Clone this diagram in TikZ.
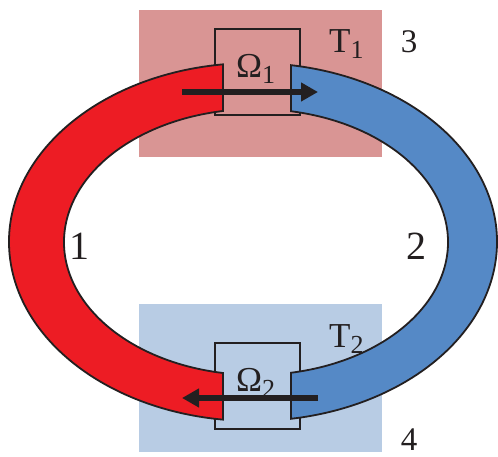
\documentclass[tikz,border=0pt]{standalone}
\usepackage{fontspec}
\setmainfont{Liberation Serif}
\usetikzlibrary{arrows.meta}
\definecolor{bandred}{HTML}{ED1C24}
\definecolor{bandblue}{HTML}{5589C6}
\definecolor{hotbg}{HTML}{D99594}
\definecolor{coldbg}{HTML}{B8CCE4}
\definecolor{ink}{HTML}{231F20}
\newcommand{\subtxt}[1]{\raisebox{-6pt}{\fontsize{26}{26}\selectfont #1}}
\begin{document}
\begin{tikzpicture}[x=1pt,y=1pt,
  band/.style={draw=ink, line width=1.8pt, line join=miter},
  valve/.style={draw=ink, line width=1.3pt},
  flow/.style={draw=ink, line width=6pt, -{Triangle[length=17pt,width=18pt]}},
  bigdigit/.style={font=\fontsize{40}{40}\selectfont, text=ink, inner sep=0pt, anchor=base},
  meddigit/.style={font=\fontsize{33}{33}\selectfont, text=ink, inner sep=0pt, anchor=base},
  lbl/.style={font=\fontsize{35}{35}\selectfont, text=ink, inner sep=0pt, anchor=base west}]
\useasboundingbox (0,0) rectangle (498,457);
% reservoirs
\fill[hotbg] (139,300) rectangle (382,447);
\fill[coldbg] (139,5) rectangle (382,153);
% valve boxes
\draw[valve] (215,342) rectangle (300,428);
\draw[valve] (215,28) rectangle (300,114);
% ellipse parameters
\pgfmathsetmacro{\cx}{253}\pgfmathsetmacro{\cy}{215}
\pgfmathsetmacro{\oa}{244}\pgfmathsetmacro{\ob}{179}
\pgfmathsetmacro{\icx}{256}
\pgfmathsetmacro{\ia}{192}\pgfmathsetmacro{\ib}{133}
\pgfmathsetmacro{\roA}{acos((223-\cx)/\oa)}
\pgfmathsetmacro{\riA}{acos((223-\icx)/\ia)}
\pgfmathsetmacro{\boA}{acos((291-\cx)/\oa)}
\pgfmathsetmacro{\biA}{acos((291-\icx)/\ia)}
% red band
\filldraw[band, fill=bandred]
  ({\cx+\oa*cos(\roA)},{\cy+\ob*sin(\roA)})
  arc[start angle=\roA, end angle={360-\roA}, x radius=\oa, y radius=\ob]
  -- ({\icx+\ia*cos(360-\riA)},{\cy+\ib*sin(360-\riA)})
  arc[start angle={360-\riA}, end angle=\riA, x radius=\ia, y radius=\ib]
  -- cycle;
% blue band
\filldraw[band, fill=bandblue]
  ({\cx+\oa*cos(\boA)},{\cy+\ob*sin(\boA)})
  arc[start angle=\boA, end angle={-\boA}, x radius=\oa, y radius=\ob]
  -- ({\icx+\ia*cos(-\biA)},{\cy+\ib*sin(-\biA)})
  arc[start angle={-\biA}, end angle=\biA, x radius=\ia, y radius=\ib]
  -- cycle;
% arrows
\coordinate (a1s) at (182,365);
\coordinate (a1e) at (318,365);
\coordinate (a2s) at (318,59);
\coordinate (a2e) at (182,59);
\draw[flow] (a1s) -- (a1e);
\draw[flow] (a2s) -- (a2e);
% labels
\node[lbl] (om1) at (236,379) {Ω\subtxt{1}};
\node[lbl] (om2) at (236,65) {Ω\subtxt{2}};
\node[lbl] (t1) at (329,404) {T\subtxt{1}};
\node[lbl] (t2) at (329,109) {T\subtxt{2}};
\node[bigdigit] (n1) at (79,197) {1};
\node[bigdigit] (n2) at (416,197) {2};
\node[meddigit] (n3) at (409,404) {3};
\node[meddigit] (n4) at (409,6) {4};
\end{tikzpicture}
\end{document}
